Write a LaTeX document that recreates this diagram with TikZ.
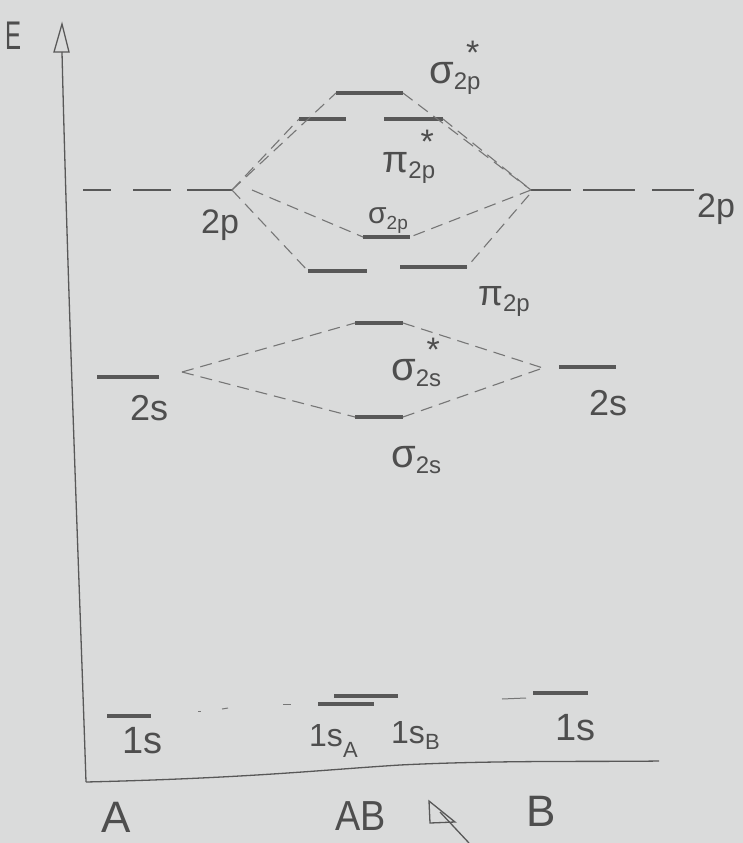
\documentclass[tikz,border=0pt]{standalone}
\usepackage{fontspec}
\setmainfont{Liberation Sans}
\definecolor{paper}{RGB}{218,219,219}
\definecolor{pencil}{RGB}{88,88,88}
\definecolor{lightpencil}{RGB}{118,118,118}
\definecolor{ink}{RGB}{78,78,78}
% #1 main glyph size, #2 glyph, #3 subscript size, #4 subscript, #5 star
\newcommand\mo[5]{{\fontsize{#1}{#1}\selectfont #2}\raisebox{-0.25em}{\fontsize{#3}{#3}\selectfont #4}\makebox[0pt][r]{\raisebox{0.72em}{\fontsize{34}{34}\selectfont #5}\hspace{0.05em}}}
\begin{document}
\begin{tikzpicture}[x=1pt,y=-1pt,
  lvl/.style={fill=pencil,draw=none,minimum height=3.2pt,inner sep=0pt,outer sep=0pt},
  spanbox/.style={draw=none,inner sep=0pt,minimum height=0pt,outer sep=0pt},
  conn/.style={draw=lightpencil,line width=1.1pt,dash pattern=on 12pt off 7pt},
  axis/.style={draw=pencil,line width=1.3pt},
  lab/.style={text=ink,inner sep=0pt,anchor=base west,font=\fontsize{26}{28}\selectfont}]
\fill[paper] (0,0) rectangle (743,843);
\useasboundingbox (0,0) rectangle (743,843);

% axes
\coordinate (ytop) at (62,52);
\coordinate (orig) at (86,782);
\coordinate (xend) at (659,761);
\draw[axis] (ytop) .. controls (68,300) and (80,600) .. (orig);
\draw[axis] (54,52) -- (62,24) -- (69,52) -- cycle;
\draw[axis] (orig) .. controls (250,778) and (320,770) .. (400,765) .. controls (500,760) and (600,762) .. (xend);
\node[lab,font=\fontsize{40}{40}\selectfont] (E) at (5,49) {\scalebox{0.6}[1]{E}};

% 2p atomic levels
\node[spanbox,minimum width=149pt] (L2p) at (157.5,190) {};
\node[spanbox,minimum width=163pt] (R2p) at (612.5,190) {};
\draw[pencil,line width=2pt,dash pattern=on 28pt off 22pt on 38pt off 16pt on 45pt off 10pt] (L2p.west) -- (L2p.east);
\draw[pencil,line width=2pt,dash pattern=on 40pt off 12pt on 52pt off 17pt on 42pt off 10pt] (R2p.west) -- (R2p.east);
\node[lab,font=\fontsize{34}{34}\selectfont] (l2pA) at (201,233) {2p};
\node[lab,font=\fontsize{34}{34}\selectfont] (l2pB) at (697,217) {2p};

% 2p molecular levels
\node[lvl,minimum width=67pt] (sps) at (369.5,93) {};
\node[lvl,minimum width=47pt] (ppsA) at (322.5,119) {};
\node[lvl,minimum width=59pt,minimum height=4.5pt] (ppsB) at (413.5,119) {};
\node[lvl,minimum width=47pt] (sp) at (386.5,237) {};
\node[lvl,minimum width=59pt] (ppA) at (337.5,271) {};
\node[lvl,minimum width=67pt] (ppB) at (433.5,267) {};

\coordinate (L2pB) at (252,190);
\coordinate (R2pB) at (529,195);
\draw[conn] (L2p.east) -- (sps.west);
\draw[conn] (L2p.east) -- (ppsA.west);
\draw[conn] (sps.east) -- (R2p.west);
\draw[conn] (ppsB.east) -- (R2p.west);
\draw[conn] (L2pB) -- (sp.west);
\draw[conn] (L2p.east) -- (ppA.west);
\draw[conn] (R2p.west) -- (sp.east);
\draw[conn] (R2pB) -- (ppB.east);

\node[lab] (lsps) at (429,83) {\mo{40}{σ}{24}{2p}{*}};
\node[lab] (lpps) at (382,172) {\mo{38}{π}{24}{2p}{*}};
\node[lab] (lsp) at (368,223) {\mo{30}{σ}{19}{2p}{}};
\node[lab] (lpp) at (478,305) {\mo{36}{π}{24}{2p}{}};

% 2s levels
\node[lvl,minimum width=62pt] (L2s) at (128,377) {};
\node[lvl,minimum width=57pt] (R2s) at (587.5,367) {};
\node[lvl,minimum width=48pt] (ss) at (379,323) {};
\node[lvl,minimum width=48pt] (s) at (379,417) {};
\coordinate (L2sc) at (182,372);
\coordinate (R2sc) at (543,368);
\draw[conn] (L2sc) -- (ss.west);
\draw[conn] (L2sc) -- (s.west);
\draw[conn] (ss.east) -- (R2sc);
\draw[conn] (s.east) -- (R2sc);
\node[lab,font=\fontsize{36}{36}\selectfont] (l2sA) at (130,420) {2s};
\node[lab,font=\fontsize{36}{36}\selectfont] (l2sB) at (589,415) {2s};
\node[lab] (lss) at (391,380) {\mo{40}{σ}{24}{2s}{*}};
\node[lab] (ls) at (391,467) {\mo{40}{σ}{24}{2s}{}};

% 1s levels
\node[lvl,minimum width=44pt] (L1s) at (129,716) {};
\node[lvl,minimum width=55pt] (R1s) at (560.5,693) {};
\node[lvl,minimum width=56pt] (m1A) at (346,704) {};
\node[lvl,minimum width=64pt] (m1B) at (366,696) {};
\coordinate (d1) at (198,711);
\coordinate (d2) at (222,709);
\coordinate (d3) at (283,704);
\draw[lightpencil,line width=1pt] (d1) -- +(3,0);
\draw[lightpencil,line width=1pt] (d2) -- +(6,-1);
\draw[lightpencil,line width=1pt] (d3) -- +(8,0);
\draw[lightpencil,line width=1pt] (R1s.west) ++(-31,6) -- +(24,-1);
\node[lab,font=\fontsize{38}{38}\selectfont] (l1sA) at (122,753) {1s};
\node[lab,font=\fontsize{38}{38}\selectfont] (l1sB) at (555,740) {1s};
\node[lab,font=\fontsize{32}{32}\selectfont] (l1sm) at (309,746) {1s\raisebox{-0.35em}{\fontsize{22}{22}\selectfont A}};
\node[lab,font=\fontsize{32}{32}\selectfont] (l1sn) at (391,743) {1s\raisebox{-0.2em}{\fontsize{22}{22}\selectfont B}};

% bottom labels
\node[lab,font=\fontsize{44}{44}\selectfont] (nA) at (101,832) {A};
\node[lab,font=\fontsize{42}{42}\selectfont] (nAB) at (335,830) {\scalebox{0.9}[1]{AB}};
\node[lab,font=\fontsize{44}{44}\selectfont] (nB) at (526,826) {B};
\draw[pencil,line width=1.3pt] (429,801) -- (430,823) -- (455,822) -- cycle;
\draw[pencil,line width=1.3pt] (440,812) -- (469,843);
\end{tikzpicture}
\end{document}
